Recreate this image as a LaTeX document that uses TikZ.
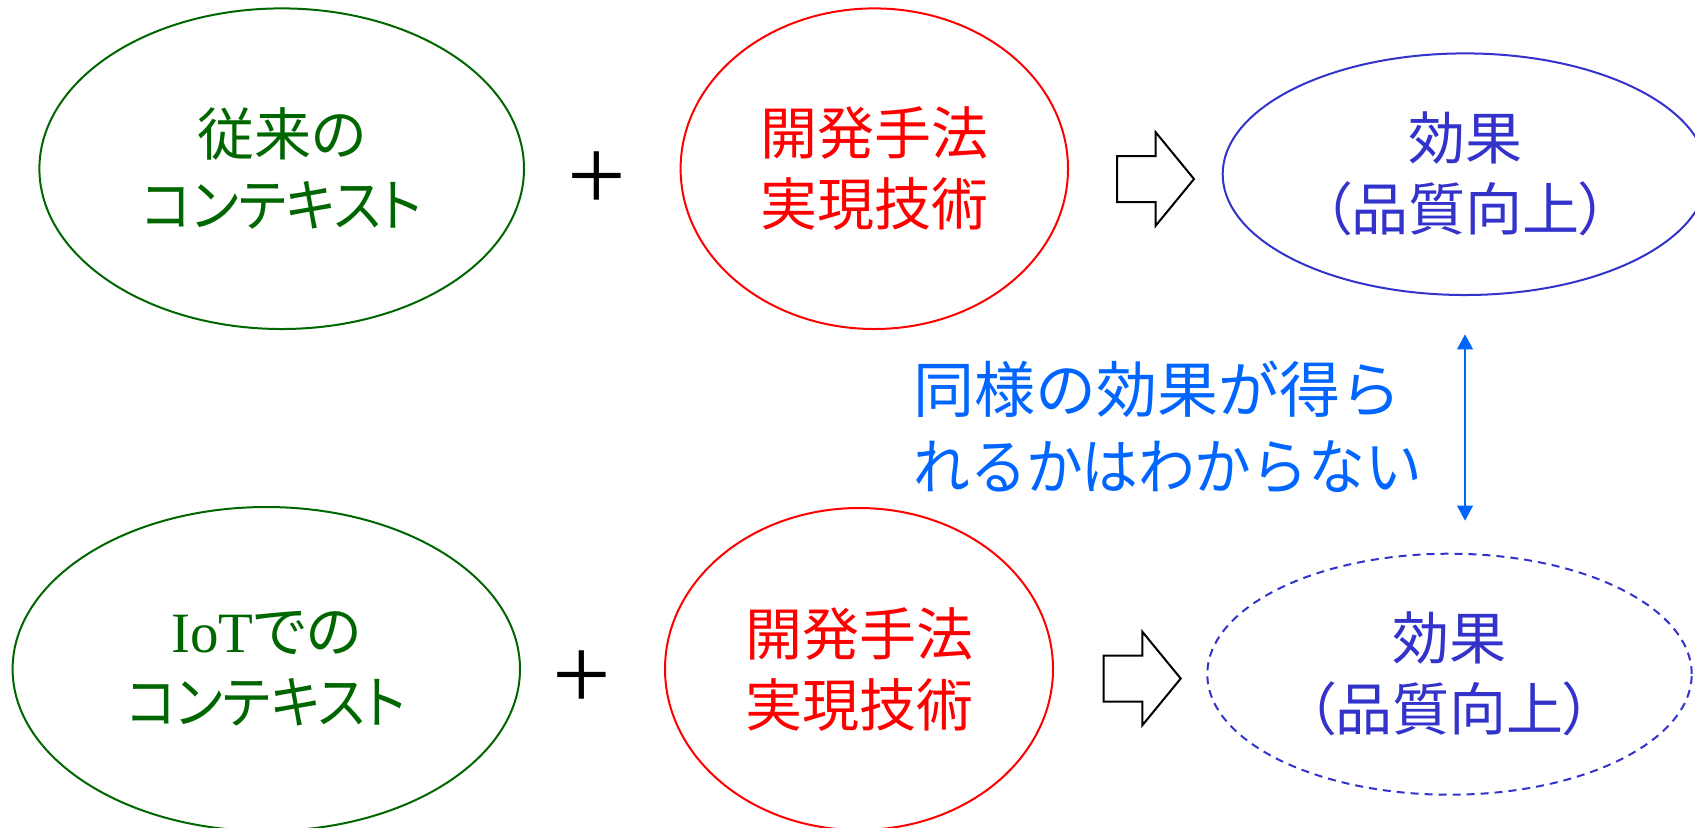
\documentclass[tikz,border=0pt]{standalone}
\usepackage{fontspec}
\setmainfont{Noto Sans CJK JP}
\newfontfamily\jpprop{Noto Sans CJK JP}[RawFeature=+palt]
\newfontfamily\jpkata{Noto Sans CJK JP}[RawFeature=+palt, FakeStretch=0.92]
\newfontfamily\jpfull{Noto Sans CJK JP}
\newfontfamily\jpnarrow{Noto Sans CJK JP}[FakeStretch=0.93]
\newfontfamily\serifont{Liberation Serif}
\usetikzlibrary{shapes.geometric, arrows.meta, calc}
\definecolor{cgreen}{RGB}{0,102,0}
\definecolor{cred}{RGB}{255,0,0}
\definecolor{cblue}{RGB}{51,51,204}
\definecolor{clight}{RGB}{0,102,255}
\begin{document}
\begin{tikzpicture}[x=0.5pt, y=-0.5pt,
  ell/.style={ellipse, inner sep=0pt, line width=1pt, align=center,
    font=\jpprop\fontsize{28.5}{35.5}\selectfont},
  grn/.style={ell, draw=cgreen, text=cgreen},
  rd/.style={ell, draw=cred, text=cred},
  bl/.style={ell, draw=cblue, text=cblue},
  plussign/.style={inner sep=0pt, font=\serifont\fontsize{52}{52}\selectfont},
  blkarrow/.style={draw=black, line width=1pt, fill=white, line join=miter},
  dblarrow/.style={draw=clight, line width=1pt, {Triangle[length=7.5pt,width=7.8pt]}-{Triangle[length=7.5pt,width=7.8pt]}},
  note/.style={inner sep=0pt, align=left, text=clight, font=\jpfull\fontsize{30.5}{38.5}\selectfont}
]
\useasboundingbox (0,0) rectangle (1695,827);
\fill[white] (0,0) rectangle (1695,827);

% top row
\node[grn, minimum width=242.3pt, minimum height=160.3pt] (g1) at (281.7,168.7) {従来の\\{\jpkata コンテキスト}};
\node[plussign] (p1) at (597,181) {+};
\node[rd, minimum width=193.7pt, minimum height=160.3pt] (r1) at (874.3,168.7) {開発手法\\実現技術};
\coordinate (a1) at (1117,179);
\draw[blkarrow] (a1) ++(0,-23) -- ++(38.7,0) -- ++(0,-23.7) -- ++(38.3,46.7) -- ++(-38.3,46.7) -- ++(0,-23.7) -- ++(-38.7,0) -- cycle;
\node[bl, minimum width=242.3pt, minimum height=120.8pt] (e1) at (1465,174.2) {効果\\（品質向上）};

% bottom row
\node[grn, minimum width=253.7pt, minimum height=162pt] (g2) at (266.3,669) {{\serifont IoT}での\\{\jpkata コンテキスト}};
\node[plussign] (p2) at (581.5,680.5) {+};
\node[rd, minimum width=194pt, minimum height=161pt] (r2) at (859,669) {開発手法\\実現技術};
\coordinate (a2) at (1103.7,678.5);
\draw[blkarrow] (a2) ++(0,-23) -- ++(38.7,0) -- ++(0,-23.7) -- ++(38.3,46.7) -- ++(-38.3,46.7) -- ++(0,-23.7) -- ++(-38.7,0) -- cycle;
\node[bl, dashed, dash pattern=on 4pt off 3pt, minimum width=242.2pt, minimum height=120.5pt] (e2) at (1449.5,674.2) {効果\\（品質向上）};

% note and double arrow
\node[note, anchor=west] (n) at (913,427) {同様の効果が得ら\\{\jpnarrow れるかはわからない}};
\draw[dblarrow] ($(e1.south)+(0,38.3)$) -- ($(e1.south |- e2.north)+(0,-32)$);
\end{tikzpicture}
\end{document}
